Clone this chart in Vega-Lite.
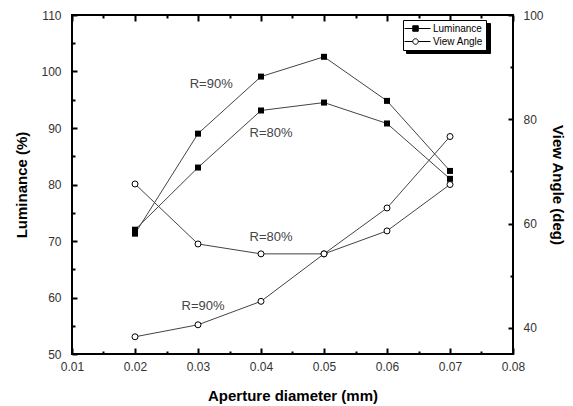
{
  "$schema": "https://vega.github.io/schema/vega-lite/v6.json",
  "width": 441,
  "height": 339,
  "autosize": {"type": "none"},
  "padding": {"left": 72, "top": 15, "right": 60, "bottom": 52},
  "background": "white",
  "config": {
    "view": {"stroke": "black", "strokeWidth": 2},
    "axis": {
      "grid": false,
      "domain": false,
      "tickColor": "black",
      "tickWidth": 2,
      "labelFont": "Liberation Sans",
      "labelFontSize": 12,
      "labelColor": "#333",
      "titleFont": "Liberation Sans",
      "titleFontSize": 15,
      "titleFontWeight": "bold",
      "titleColor": "black"
    },
    "text": {"font": "Liberation Sans"}
  },
  "datasets": {
    "lum": [
      {"d": 0.02, "v": 71.3, "R": "90%"},
      {"d": 0.03, "v": 89.0, "R": "90%"},
      {"d": 0.04, "v": 99.1, "R": "90%"},
      {"d": 0.05, "v": 102.6, "R": "90%"},
      {"d": 0.06, "v": 94.8, "R": "90%"},
      {"d": 0.07, "v": 82.4, "R": "90%"},
      {"d": 0.02, "v": 72.0, "R": "80%"},
      {"d": 0.03, "v": 83.0, "R": "80%"},
      {"d": 0.04, "v": 93.1, "R": "80%"},
      {"d": 0.05, "v": 94.5, "R": "80%"},
      {"d": 0.06, "v": 90.8, "R": "80%"},
      {"d": 0.07, "v": 81.0, "R": "80%"}
    ],
    "va": [
      {"d": 0.02, "v": 38.3, "R": "90%"},
      {"d": 0.03, "v": 40.6, "R": "90%"},
      {"d": 0.04, "v": 45.1, "R": "90%"},
      {"d": 0.05, "v": 54.2, "R": "90%"},
      {"d": 0.06, "v": 63.0, "R": "90%"},
      {"d": 0.07, "v": 76.7, "R": "90%"},
      {"d": 0.02, "v": 67.6, "R": "80%"},
      {"d": 0.03, "v": 56.1, "R": "80%"},
      {"d": 0.04, "v": 54.2, "R": "80%"},
      {"d": 0.05, "v": 54.2, "R": "80%"},
      {"d": 0.06, "v": 58.6, "R": "80%"},
      {"d": 0.07, "v": 67.5, "R": "80%"}
    ],
    "lumLabels": [
      {"d": 0.0321, "v": 97.8, "t": "R=90%"},
      {"d": 0.0416, "v": 89.1, "t": "R=80%"}
    ],
    "vaLabels": [
      {"d": 0.0416, "v": 57.4, "t": "R=80%"},
      {"d": 0.0308, "v": 44.2, "t": "R=90%"}
    ],
    "legendRows": [
      {"series": "Luminance"},
      {"series": "View Angle"}
    ]
  },
  "layer": [
    {
      "encoding": {
        "x": {
          "field": "d", "type": "quantitative",
          "scale": {"domain": [0.01, 0.08], "nice": false, "zero": false},
          "axis": {
            "orient": "bottom",
            "title": "Aperture diameter (mm)",
            "values": [0.01, 0.015, 0.02, 0.025, 0.03, 0.035, 0.04, 0.045, 0.05, 0.055, 0.06, 0.065, 0.07, 0.075, 0.08],
            "labelExpr": "round(datum.value*1000) % 10 === 0 ? format(datum.value, '.2f') : ''",
            "tickSize": {"condition": {"test": "round(datum.value*1000) % 10 === 0", "value": -6}, "value": -3},
            "labelPadding": 13,
            "labelFlush": false,
            "labelOverlap": false,
            "titlePadding": 13
          }
        },
        "y": {
          "field": "v", "type": "quantitative",
          "scale": {"domain": [50, 110], "nice": false, "zero": false},
          "axis": {
            "orient": "left",
            "title": "Luminance (%)",
            "values": [50, 55, 60, 65, 70, 75, 80, 85, 90, 95, 100, 105, 110],
            "labelExpr": "datum.value % 10 === 0 ? datum.label : ''",
            "tickSize": {"condition": {"test": "datum.value % 10 === 0", "value": -5}, "value": -3},
            "labelPadding": 16,
            "labelFlush": false,
            "labelOverlap": false,
            "titlePadding": 11
          }
        }
      },
      "layer": [
        {
          "data": {"name": "lum"},
          "mark": {"type": "line", "color": "#444", "strokeWidth": 1},
          "encoding": {"detail": {"field": "R"}}
        },
        {
          "data": {"name": "lum"},
          "mark": {"type": "point", "shape": "square", "filled": true, "color": "black", "size": 36, "opacity": 1},
          "encoding": {"detail": {"field": "R"}}
        },
        {
          "data": {"name": "lumLabels"},
          "mark": {"type": "text", "fontSize": 13, "color": "#444"},
          "encoding": {"text": {"field": "t"}}
        }
      ]
    },
    {
      "encoding": {
        "x": {
          "field": "d", "type": "quantitative",
          "scale": {"domain": [0.01, 0.08], "nice": false, "zero": false},
          "axis": {
            "orient": "top",
            "title": null,
            "labels": false,
            "values": [0.01, 0.015, 0.02, 0.025, 0.03, 0.035, 0.04, 0.045, 0.05, 0.055, 0.06, 0.065, 0.07, 0.075, 0.08],
            "tickSize": {"condition": {"test": "round(datum.value*1000) % 10 === 0", "value": -6}, "value": -3}
          }
        },
        "y": {
          "field": "v", "type": "quantitative",
          "scale": {"domain": [35, 100], "nice": false, "zero": false},
          "axis": {
            "orient": "right",
            "title": "View Angle (deg)",
            "values": [40, 50, 60, 70, 80, 90, 100],
            "labelExpr": "datum.value % 20 === 0 ? datum.label : ''",
            "tickSize": {"condition": {"test": "datum.value % 20 === 0", "value": -5}, "value": -3},
            "labelPadding": 15,
            "labelFlush": false,
            "labelOverlap": false,
            "titlePadding": 6
          }
        }
      },
      "layer": [
        {
          "data": {"name": "va"},
          "mark": {"type": "line", "color": "#444", "strokeWidth": 1},
          "encoding": {"detail": {"field": "R"}}
        },
        {
          "data": {"name": "va"},
          "mark": {"type": "point", "shape": "circle", "filled": true, "fill": "white", "stroke": "black", "strokeWidth": 1, "size": 36, "opacity": 1},
          "encoding": {"detail": {"field": "R"}}
        },
        {
          "data": {"name": "vaLabels"},
          "mark": {"type": "text", "fontSize": 13, "color": "#444"},
          "encoding": {"text": {"field": "t"}}
        }
      ]
    },
    {
      "data": {"name": "legendRows"},
      "mark": {"type": "point", "opacity": 0, "filled": true},
      "encoding": {
        "color": {
          "field": "series", "type": "nominal",
          "scale": {"range": ["black", "black"]},
          "legend": {
            "title": null,
            "orient": "none",
            "legendX": 334,
            "legendY": 8,
            "strokeColor": "black",
            "fillColor": "black",
            "padding": 3,
            "symbolSize": 100,
            "labelFont": "Liberation Sans",
            "labelFontSize": 10,
            "labelColor": "black",
            "labelOffset": 16,
            "rowPadding": 2,
            "encode": {
              "symbols": {"update": {"opacity": {"value": 0}}},
              "labels": {"update": {"opacity": {"value": 0}}}
            }
          }
        }
      }
    },
    {
      "data": {"name": "legendRows"},
      "mark": {"type": "point", "opacity": 0, "filled": true},
      "encoding": {
        "shape": {
          "field": "series", "type": "nominal",
          "scale": {
            "domain": ["Luminance", "View Angle"],
            "range": [
              "M-1.4,0H0.25M1.35,0H3.8M0.25,-0.55H1.35V0.55H0.25Z",
              "M-1.4,0H0.25M1.35,0H3.8M0.25,0A0.55,0.55 0 1,0 1.35,0A0.55,0.55 0 1,0 0.25,0Z"
            ]
          },
          "legend": {
            "title": null,
            "orient": "none",
            "legendX": 331,
            "legendY": 5,
            "strokeColor": "black",
            "fillColor": "white",
            "padding": 3,
            "symbolSize": 100,
            "labelFont": "Liberation Sans",
            "labelFontSize": 10,
            "labelColor": "black",
            "labelOffset": 16,
            "rowPadding": 2,
            "encode": {
              "symbols": {
                "update": {
                  "stroke": {"value": "black"},
                  "strokeWidth": {"value": 1},
                  "size": {"value": 100},
                  "opacity": {"value": 1},
                  "strokeOpacity": {"value": 1},
                  "fillOpacity": {"value": 1}
                }
              }
            }
          }
        },
        "fill": {
          "field": "series", "type": "nominal",
          "scale": {"domain": ["Luminance", "View Angle"], "range": ["black", "white"]},
          "legend": {
            "title": null,
            "orient": "none",
            "legendX": 331,
            "legendY": 5,
            "strokeColor": "black",
            "fillColor": "white",
            "padding": 3,
            "symbolSize": 100,
            "labelFont": "Liberation Sans",
            "labelFontSize": 10,
            "labelColor": "black",
            "labelOffset": 16,
            "rowPadding": 2,
            "encode": {
              "symbols": {
                "update": {
                  "stroke": {"value": "black"},
                  "strokeWidth": {"value": 1},
                  "size": {"value": 100},
                  "opacity": {"value": 1},
                  "strokeOpacity": {"value": 1},
                  "fillOpacity": {"value": 1}
                }
              }
            }
          }
        }
      }
    }
  ],
  "resolve": {
    "scale": {"y": "independent"},
    "axis": {"x": "independent", "y": "independent"}
  }
}
